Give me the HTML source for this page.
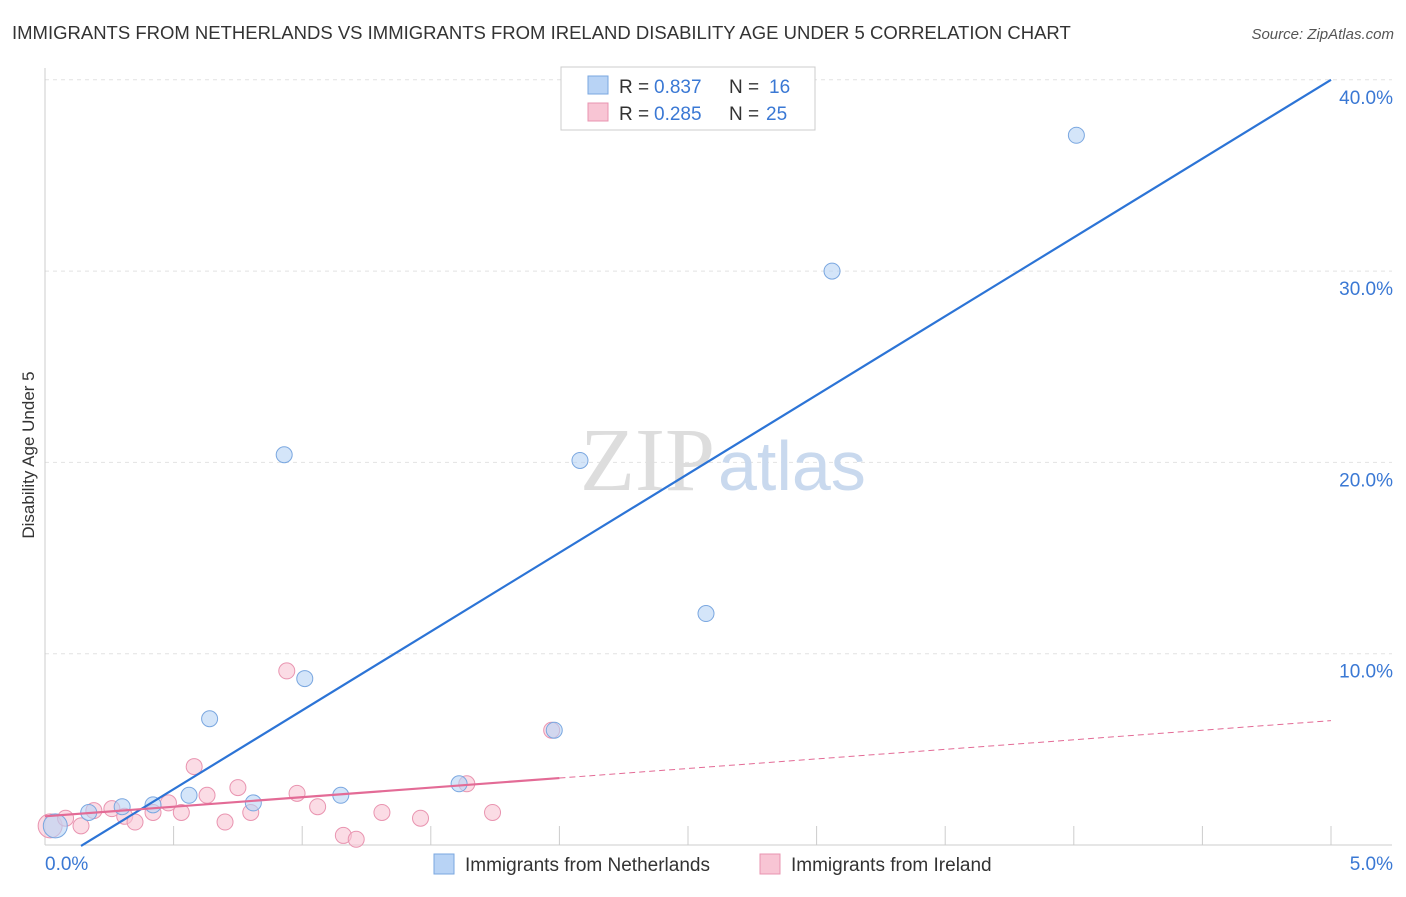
<!DOCTYPE html>
<html><head><meta charset="utf-8"><style>
body{margin:0;background:#fff;font-family:"Liberation Sans",sans-serif}
</style></head><body>
<svg width="1406" height="892" xmlns="http://www.w3.org/2000/svg">
<text x="12" y="39" font-size="18.5" fill="#333">IMMIGRANTS FROM NETHERLANDS VS IMMIGRANTS FROM IRELAND DISABILITY AGE UNDER 5 CORRELATION CHART</text>
<text x="1394" y="39" font-size="15" fill="#555" font-style="italic" text-anchor="end">Source: ZipAtlas.com</text>
<text x="34" y="455" font-size="17" fill="#333" transform="rotate(-90 34 455)" text-anchor="middle">Disability Age Under 5</text>
<g id="grid"></g>
<text x="715" y="490" font-size="90" fill="#ddd" font-family="Liberation Serif" text-anchor="end">ZIP</text>
<text x="718" y="490" font-size="70" fill="#c9d9ee">atlas</text>
<g id="marks"></g>
<g>
<rect x="561" y="67" width="254" height="63" fill="#fff" stroke="#ccc"/>
<rect x="588" y="76" width="20" height="18" fill="#b8d3f5" stroke="#7aa7e0"/>
<rect x="588" y="103" width="20" height="18" fill="#f8c5d4" stroke="#e994b0"/>
<text x="619" y="93" font-size="19" fill="#333">R =</text>
<text x="654" y="93" font-size="19" fill="#3a78d4">0.837</text>
<text x="729" y="93" font-size="19" fill="#333">N =</text>
<text x="769" y="93" font-size="19" fill="#3a78d4">16</text>
<text x="619" y="120" font-size="19" fill="#333">R =</text>
<text x="654" y="120" font-size="19" fill="#3a78d4">0.285</text>
<text x="729" y="120" font-size="19" fill="#333">N =</text>
<text x="766" y="120" font-size="19" fill="#3a78d4">25</text>
</g>
<g>
<rect x="434" y="854" width="20" height="20" fill="#b8d3f5" stroke="#7aa7e0"/>
<text x="465" y="871" font-size="19" fill="#333">Immigrants from Netherlands</text>
<rect x="760" y="854" width="20" height="20" fill="#f8c5d4" stroke="#e994b0"/>
<text x="791" y="871" font-size="19" fill="#333">Immigrants from Ireland</text>
</g>
</svg>
<script>
const xTicks=[0,0.5,1,1.5,2,2.5,3,3.5,4,4.5,5];
const yTicks=[10,20,30,40];
const yTickLabels=["10.0%","20.0%","30.0%","40.0%"];
const blueX=[0.04,0.17,0.30,0.42,0.56,0.64,0.81,0.93,1.01,1.15,1.61,1.98,2.08,2.57,3.06,4.01];
const blueY=[1.0,1.7,2.0,2.1,2.6,6.6,2.2,20.4,8.7,2.6,3.2,6.0,20.1,12.1,30.0,37.1];
const pinkX=[0.02,0.08,0.14,0.19,0.26,0.31,0.35,0.42,0.48,0.53,0.58,0.63,0.70,0.75,0.80,0.94,0.98,1.06,1.16,1.21,1.31,1.46,1.64,1.74,1.97];
const pinkY=[1.0,1.4,1.0,1.8,1.9,1.5,1.2,1.7,2.2,1.7,4.1,2.6,1.2,3.0,1.7,9.1,2.7,2.0,0.5,0.3,1.7,1.4,3.2,1.7,6.0];
const blueLine=[0.14,-0.05,5,40];
const pinkLine=[0,1.5,2,3.5,5,6.5];
const X=v=>45+v*257.2, Y=v=>845-v*19.13;
const NS="http://www.w3.org/2000/svg";
function mk(t,a,p){const e=document.createElementNS(NS,t);for(const k in a)e.setAttribute(k,a[k]);p.appendChild(e);return e;}
const g=document.getElementById('grid'),m=document.getElementById('marks');
yTicks.forEach((t,i)=>{
 const l=mk('line',{x1:45,x2:1392,y1:Y(t),y2:Y(t),stroke:'#e2e2e2','stroke-dasharray':'4 4'},g);
 
 
 const tx=mk('text',{x:1393,y:Y(t)+24,'font-size':19,fill:'#3a78d4','text-anchor':'end'},g);
 tx.textContent=yTickLabels[i];
 
 
});
mk('line',{x1:45,x2:45,y1:68,y2:845,stroke:'#ccc'},g);
mk('line',{x1:45,x2:1392,y1:845,y2:845,stroke:'#ccc'},g);
xTicks.forEach(t=>{
 const l=mk('line',{x1:X(t),x2:X(t),y1:826,y2:845,stroke:'#ccc'},g);
 
 
});
const x0=mk('text',{x:45,y:870,'font-size':19,fill:'#3a78d4'},g);x0.textContent="0.0%";


const x5=mk('text',{x:1393,y:870,'font-size':19,fill:'#3a78d4','text-anchor':'end'},g);x5.textContent="5.0%";


function dot(x,y,fill,stroke,name,r){const c=mk('circle',{cx:X(x),cy:Y(y),r:r,fill:fill,'fill-opacity':0.6,stroke:stroke},m);
 
 }
pinkX.forEach((x,i)=>dot(x,pinkY[i],'#f8c5d4','#e994b0','ireland-point',i==0?12:8));
blueX.forEach((x,i)=>dot(x,blueY[i],'#b8d3f5','#7aa7e0','netherlands-point',i==0?12:8));
const bl=mk('line',{x1:X(blueLine[0]),y1:Y(blueLine[1]),x2:X(blueLine[2]),y2:Y(blueLine[3]),stroke:'#2c74d6','stroke-width':2.2},m);


const pl=mk('line',{x1:X(pinkLine[0]),y1:Y(pinkLine[1]),x2:X(pinkLine[2]),y2:Y(pinkLine[3]),stroke:'#e36b96','stroke-width':2.2},m);


const pd=mk('line',{x1:X(pinkLine[2]),y1:Y(pinkLine[3]),x2:X(pinkLine[4]),y2:Y(pinkLine[5]),stroke:'#e36b96','stroke-width':1,'stroke-dasharray':'6 4'},m);


</script>
</body></html>
